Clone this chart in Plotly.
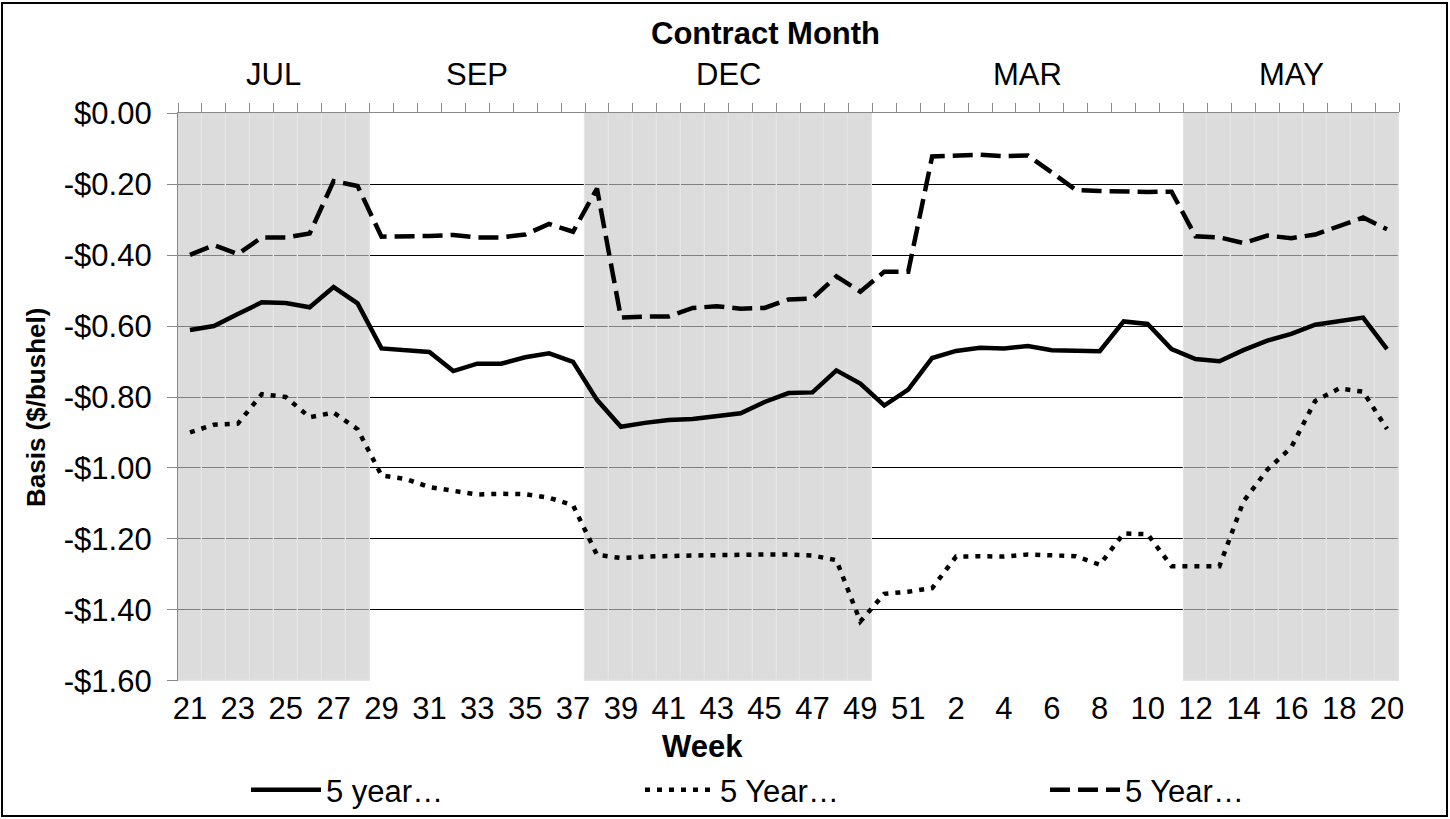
import plotly.graph_objects as go

# ---------------- data ----------------
weeks = ["21", "22", "23", "24", "25", "26", "27", "28", "29", "30", "31", "32",
         "33", "34", "35", "36", "37", "38", "39", "40", "41", "42", "43", "44",
         "45", "46", "47", "48", "49", "50", "51", "52",
         "2", "3", "4", "5", "6", "7", "8", "9", "10", "11", "12", "13", "14",
         "15", "16", "17", "18", "19", "20"]

contract_months = ["JUL", "SEP", "DEC", "MAR", "MAY"]
contract_weeks = [8, 9, 12, 13, 9]          # number of weeks per contract month
contract_shaded = [True, False, True, False, True]

avg_5yr = [-0.611, -0.600, -0.566, -0.533, -0.535, -0.547, -0.490, -0.536,
           -0.663, -0.668, -0.673, -0.727, -0.706, -0.706, -0.688, -0.677, -0.701,
           -0.808, -0.884, -0.873, -0.865, -0.862, -0.855, -0.846, -0.814, -0.789,
           -0.787, -0.725, -0.762,
           -0.824, -0.779, -0.690, -0.670, -0.661, -0.663, -0.656, -0.668, -0.668,
           -0.671, -0.587, -0.594, -0.665,
           -0.693, -0.699, -0.668, -0.641, -0.622, -0.596, -0.585, -0.576, -0.665]

low_5yr = [-0.900, -0.878, -0.875, -0.792, -0.800, -0.857, -0.844, -0.891,
           -1.021, -1.031, -1.054, -1.064, -1.075, -1.073, -1.074, -1.084, -1.105,
           -1.245, -1.254, -1.250, -1.247, -1.247, -1.246, -1.244, -1.244, -1.244,
           -1.247, -1.260, -1.433,
           -1.355, -1.349, -1.339, -1.250, -1.249, -1.250, -1.244, -1.248, -1.249,
           -1.273, -1.185, -1.187, -1.277,
           -1.277, -1.277, -1.095, -1.005, -0.942, -0.811, -0.776, -0.785, -0.890]

high_5yr = [-0.399, -0.372, -0.397, -0.350, -0.350, -0.339, -0.191, -0.205,
            -0.348, -0.348, -0.346, -0.343, -0.350, -0.350, -0.342, -0.312, -0.334,
            -0.212, -0.576, -0.573, -0.573, -0.549, -0.544, -0.551, -0.549, -0.525,
            -0.522, -0.460, -0.503,
            -0.447, -0.447, -0.122, -0.120, -0.117, -0.121, -0.119, -0.167, -0.216,
            -0.219, -0.222, -0.222, -0.221,
            -0.347, -0.350, -0.366, -0.345, -0.352, -0.342, -0.318, -0.294, -0.327]

series_names = ["5 year\u2026", "5 Year\u2026", "5 Year\u2026"]

y_ticks = [0.0, -0.2, -0.4, -0.6, -0.8, -1.0, -1.2, -1.4, -1.6]
y_ticktext = ["$0.00", "-$0.20", "-$0.40", "-$0.60", "-$0.80",
              "-$1.00", "-$1.20", "-$1.40", "-$1.60"]

# ---------------- layout constants ----------------
W, H = 1450, 819
L, R, T, B = 178, 51, 113, 138
PW, PH = W - L - R, H - T - B
FONT = "Liberation Sans, Arial, sans-serif"
AXIS_GRAY = "#898989"


def px_x(px):
    return (px - L) / PW


def px_y(py):
    return (H - B - py) / PH


n = len(weeks)
idx = list(range(n))
y_min, y_max = min(y_ticks), max(y_ticks)

# shading bars per week from the contract month groups
shade_vals = []
group_centers = []
start = 0
for name, cnt, sh in zip(contract_months, contract_weeks, contract_shaded):
    shade_vals += [y_min if sh else None] * cnt
    group_centers.append(start + (cnt - 1) / 2)
    start += cnt

fig = go.Figure()

# shading on the main (bottom) subplot, drawn underneath the lines
fig.add_trace(go.Bar(
    x=idx, y=shade_vals, xaxis="x", yaxis="y", width=1,
    marker=dict(color="rgba(200,200,200,0.64)",
                line=dict(color="#E4E4E4", width=1.2)),
    showlegend=False, hoverinfo="skip"))

styles = [dict(color="black", width=4.5),
          dict(color="black", width=4.5, dash="5px,7px"),
          dict(color="black", width=4.5, dash="20px,8px")]
legends = ["legend", "legend2", "legend3"]
for vals, nm, st, lg in zip([avg_5yr, low_5yr, high_5yr], series_names, styles, legends):
    fig.add_trace(go.Scatter(x=idx, y=vals, mode="lines", name=nm, line=st,
                             legend=lg, xaxis="x2", yaxis="y"))

axis_range = [-0.5, n - 0.5]
fig.update_layout(
    width=W, height=H,
    margin=dict(l=L, r=R, t=T, b=B, autoexpand=False),
    paper_bgcolor="white", plot_bgcolor="white",
    font=dict(family=FONT, size=31, color="black"),
    bargap=0,
    xaxis=dict(range=axis_range, tickmode="array", tickvals=idx[::2],
               ticktext=weeks[::2], showgrid=False, zeroline=False,
               showline=False, ticks="", tickfont=dict(size=31),
               ticklabelstandoff=6),
    xaxis2=dict(range=axis_range, overlaying="x", side="top", anchor="y",
                tickmode="array", tickvals=[i - 0.5 for i in range(n + 1)],
                ticks="outside", ticklen=9, tickwidth=1.3, tickcolor=AXIS_GRAY,
                showline=True, linecolor=AXIS_GRAY, linewidth=1.3,
                showticklabels=False, showgrid=False, zeroline=False),
    yaxis=dict(range=[y_min - 0.0008, y_max + 0.0008], tickmode="array",
               tickvals=y_ticks, ticktext=y_ticktext, showgrid=True,
               gridcolor="black", gridwidth=1.3, zeroline=False,
               ticks="outside", ticklen=10, tickwidth=1.3, tickcolor=AXIS_GRAY,
               showline=True, linecolor=AXIS_GRAY, linewidth=1.3,
               tickfont=dict(size=31), ticklabelstandoff=9),
    showlegend=True,
)

leg_common = dict(orientation="h", yanchor="middle", xanchor="left",
                  y=px_y(790), bgcolor="rgba(0,0,0,0)", borderwidth=0,
                  font=dict(size=31), itemwidth=70)
fig.update_layout(
    legend=dict(x=px_x(246), **leg_common),
    legend2=dict(x=px_x(640), **leg_common),
    legend3=dict(x=px_x(1045), **leg_common),
)

ann = [dict(text="<b>Contract Month</b>", x=px_x(765), y=px_y(33.5)),
       dict(text="<b>Week</b>", x=px_x(702), y=px_y(746)),
       dict(text="<b>Basis ($/bushel)</b>", x=px_x(36), y=px_y(408),
            textangle=-90, font=dict(size=26, family=FONT, color="black"))]
annotations = []
for a in ann:
    base = dict(xref="paper", yref="paper", showarrow=False,
                xanchor="center", yanchor="middle",
                font=dict(size=31, family=FONT, color="black"))
    base.update(a)
    annotations.append(base)
for name, cx in zip(contract_months, group_centers):
    annotations.append(dict(text=name, x=cx, xref="x", y=px_y(74.7), yref="paper",
                            showarrow=False, xanchor="center", yanchor="middle",
                            font=dict(size=31, family=FONT, color="black")))
fig.update_layout(annotations=annotations)

# outer chart border
fig.add_shape(type="rect", xref="paper", yref="paper",
              x0=px_x(2), x1=px_x(1447), y0=px_y(816), y1=px_y(3),
              line=dict(color="black", width=2), fillcolor="rgba(0,0,0,0)",
              layer="above")

fig.write_html("out.html",
               config={"displayModeBar": False},
               post_script="document.body.style.margin='0px';")
